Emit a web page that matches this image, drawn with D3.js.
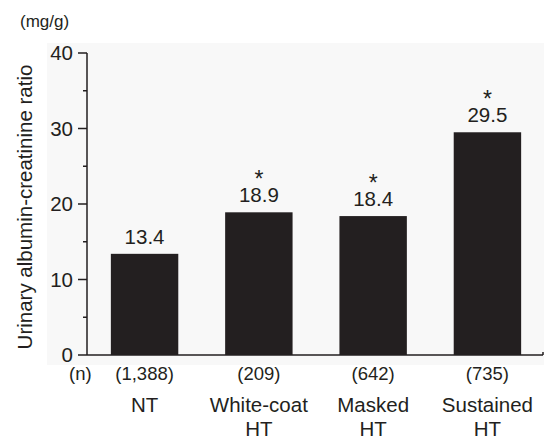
<!DOCTYPE html>
<html>
<head>
<meta charset="utf-8">
<script src="https://cdn.jsdelivr.net/npm/d3@7"></script>
<style>
	body { margin: 0; background: #fff; }
	svg text { font-family: Arial, "Liberation Sans", sans-serif; fill: #231f20; }
</style>
</head>
<body>
<div id="chart"></div>
<script>
var categories = [['NT'], ['White-coat', 'HT'], ['Masked', 'HT'], ['Sustained', 'HT']];
var values = [13.4, 18.9, 18.4, 29.5];
var counts = ['(1,388)', '(209)', '(642)', '(735)'];
var significant = [false, true, true, true];
var yTicks = [0, 10, 20, 30, 40];
var yMinor = [5, 15, 25, 35];

var width = 544, height = 440
	, ink = '#231f20';

var svg = d3.select('#chart')
	.append('svg')
	.attr('width', width)
	.attr('height', height);

var x = d3.scaleBand()
	.domain(d3.range(values.length))
	.range([88, 544])
	.paddingInner(0.41)
	.paddingOuter(0.2);

var y = d3.scaleLinear()
	.domain([0, 40])
	.range([355, 53]);

// faint plot background
svg.append('rect')
	.attr('x', 47).attr('y', 43)
	.attr('width', width - 47).attr('height', 322)
	.attr('fill', '#f8f8f8');

// axes
svg.append('line')
	.attr('x1', 87).attr('x2', 87)
	.attr('y1', y(40)).attr('y2', y(0))
	.attr('stroke', ink).attr('stroke-width', 1.5);
svg.append('line')
	.attr('x1', 87).attr('x2', 543)
	.attr('y1', y(0)).attr('y2', y(0))
	.attr('stroke', ink).attr('stroke-width', 1.5);
svg.append('line')
	.attr('x1', 543).attr('x2', 543)
	.attr('y1', y(0)).attr('y2', y(0) - 3)
	.attr('stroke', ink).attr('stroke-width', 1.5);

var yAxis = svg.append('g');
yAxis.selectAll('line.major')
	.data(yTicks)
	.enter().append('line')
	.attr('x1', 78).attr('x2', 87)
	.attr('y1', function(d){ return y(d); })
	.attr('y2', function(d){ return y(d); })
	.attr('stroke', ink).attr('stroke-width', 1.5);
yAxis.selectAll('line.minor')
	.data(yMinor)
	.enter().append('line')
	.attr('x1', 83).attr('x2', 87)
	.attr('y1', function(d){ return y(d); })
	.attr('y2', function(d){ return y(d); })
	.attr('stroke', ink).attr('stroke-width', 1.5);
yAxis.selectAll('text')
	.data(yTicks)
	.enter().append('text')
	.attr('x', 73)
	.attr('y', function(d){ return y(d); })
	.attr('dy', '0.36em')
	.attr('text-anchor', 'end')
	.style('font-size', '20.5px')
	.text(function(d){ return d; });

svg.append('text')
	.attr('transform', 'translate(32,' + ((y(0) + y(40)) / 2 + 3) + ') rotate(-90)')
	.attr('text-anchor', 'middle')
	.style('font-size', '20.5px')
	.text('Urinary albumin-creatinine ratio');

svg.append('text')
	.attr('x', 20).attr('y', 27)
	.style('font-size', '17px')
	.text('(mg/g)');

// bars
svg.selectAll('rect.bar')
	.data(values)
	.enter().append('rect')
	.attr('class', 'bar')
	.attr('x', function(d, i){ return x(i); })
	.attr('width', x.bandwidth())
	.attr('y', function(d){ return y(d); })
	.attr('height', function(d){ return y(0) - y(d); })
	.attr('fill', ink);

svg.selectAll('text.val')
	.data(values)
	.enter().append('text')
	.attr('class', 'val')
	.attr('x', function(d, i){ return x(i) + x.bandwidth() / 2; })
	.attr('y', function(d){ return y(d) - 10; })
	.attr('text-anchor', 'middle')
	.style('font-size', '20.5px')
	.text(function(d){ return d.toFixed(1); });

svg.selectAll('text.star')
	.data(values)
	.enter().filter(function(d, i){ return significant[i]; })
	.append('text')
	.attr('class', 'star')
	.attr('x', function(d){ return x(values.indexOf(d)) + x.bandwidth() / 2; })
	.attr('y', function(d){ return y(d) - 25; })
	.attr('text-anchor', 'middle')
	.style('font-size', '23px')
	.style('font-weight', '300')
	.text('*');

// n row
svg.append('text')
	.attr('x', 69).attr('y', 380)
	.style('font-size', '18.5px')
	.text('(n)');
svg.selectAll('text.n')
	.data(counts)
	.enter().append('text')
	.attr('class', 'n')
	.attr('x', function(d, i){ return x(i) + x.bandwidth() / 2; })
	.attr('y', 380)
	.attr('text-anchor', 'middle')
	.style('font-size', '18.5px')
	.text(function(d){ return d; });

// category labels
var cat = svg.selectAll('text.cat')
	.data(categories)
	.enter().append('text')
	.attr('class', 'cat')
	.attr('text-anchor', 'middle')
	.style('font-size', '20.5px');
cat.selectAll('tspan')
	.data(function(d, i){ return d.map(function(s){ return {s: s, i: i}; }); })
	.enter().append('tspan')
	.attr('x', function(d){ return x(d.i) + x.bandwidth() / 2; })
	.attr('y', function(d, j){ return 412 + j * 24; })
	.text(function(d){ return d.s; });
</script>
</body>
</html>
